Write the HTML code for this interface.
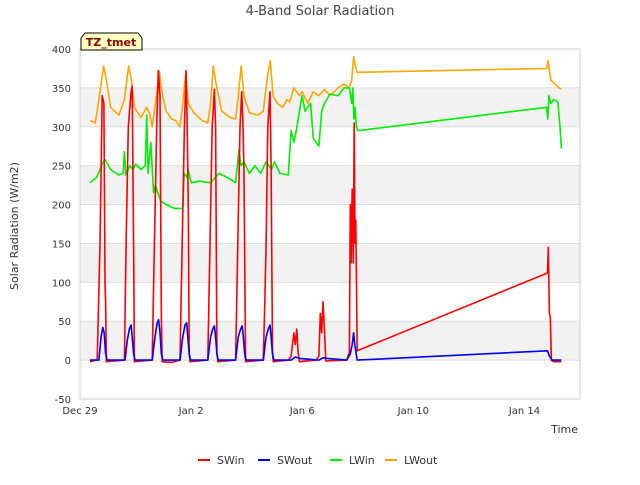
<!DOCTYPE html>
<html><head><meta charset="utf-8"><style>
body{margin:0;background:#fff;font-family:"Liberation Sans","DejaVu Sans",sans-serif;}
svg text{font-family:"DejaVu Sans","Liberation Sans",sans-serif;}
</style></head><body>
<svg id="c" width="640" height="480" xmlns="http://www.w3.org/2000/svg"></svg>
<script>
const categories = ["Dec 29","Jan 2","Jan 6","Jan 10","Jan 14"];
const tickDays = [0,4,8,12,16];
const yTicks = [-50,0,50,100,150,200,250,300,350,400];
const seriesNames = ["SWin","SWout","LWin","LWout"];
const seriesColors = ["#ff0000","#0000ff","#00ee00","#ffa500"];
const swinDays = [0.36,0.62,0.72,0.8,0.86,0.9,0.92,0.95,1.6,1.66,1.74,1.84,1.88,1.93,1.96,2.6,2.68,2.76,2.82,2.88,2.93,2.96,3.3,3.6,3.68,3.76,3.82,3.86,3.9,3.93,3.96,4.6,4.68,4.76,4.84,4.88,4.93,4.96,5.6,5.68,5.76,5.82,5.86,5.9,5.96,6.6,6.66,6.7,6.76,6.84,6.88,6.93,6.96,7.5,7.6,7.7,7.75,7.8,7.85,7.9,8.5,8.6,8.65,8.7,8.75,8.8,8.85,9.6,9.7,9.73,9.76,9.8,9.84,9.87,9.9,9.93,9.98,16.83,16.86,16.9,16.93,16.97,17.05,17.33];
const swinVals = [-2,0,150,340,330,100,75,-2,0,150,300,345,352,150,-2,0,150,300,372,340,50,-2,-3,0,150,300,372,300,195,10,-2,0,150,300,348,300,10,-2,0,150,300,345,310,250,-2,0,85,150,300,345,250,10,-2,0,5,35,20,40,10,-2,0,5,60,35,75,40,-1,0,10,200,125,220,125,305,150,180,12,112,145,60,55,0,-2,-2];
const swoutDays = [0.36,0.68,0.76,0.82,0.87,0.92,0.98,1.62,1.7,1.78,1.84,1.88,1.93,1.98,2.6,2.7,2.78,2.83,2.88,2.93,2.98,3.6,3.7,3.78,3.84,3.88,3.93,3.98,4.6,4.7,4.78,4.84,4.88,4.93,4.98,5.6,5.7,5.78,5.84,5.88,5.93,5.98,6.6,6.7,6.78,6.84,6.88,6.93,6.98,7.6,7.75,7.95,8.6,8.75,8.95,9.6,9.73,9.8,9.85,9.9,9.98,16.83,16.9,17.0,17.33];
const swoutVals = [0,0,30,42,35,8,0,0,25,40,45,30,8,0,0,30,48,52,35,8,0,0,30,45,48,30,8,0,0,30,40,44,30,8,0,0,30,40,44,30,8,0,0,30,40,45,30,8,0,0,4,2,0,3,2,0,8,20,35,18,0,12,5,0,0];
const lwinDays = [0.36,0.6,0.8,0.9,1.1,1.4,1.55,1.6,1.65,1.8,1.9,2.0,2.2,2.35,2.4,2.45,2.55,2.65,2.72,2.8,2.9,3.1,3.4,3.7,3.75,3.85,3.9,4.0,4.3,4.7,5.0,5.3,5.6,5.72,5.8,5.9,6.1,6.3,6.5,6.7,6.9,7.0,7.2,7.5,7.6,7.7,7.8,7.9,8.0,8.1,8.3,8.4,8.6,8.7,8.8,9.0,9.3,9.5,9.7,9.78,9.82,9.86,9.9,9.95,10.0,16.8,16.84,16.88,16.95,17.05,17.2,17.28,17.33];
const lwinVals = [228,235,252,258,245,238,240,268,238,250,245,252,245,250,315,240,280,215,225,215,205,200,195,195,240,235,245,228,230,228,240,235,228,270,250,255,240,250,240,255,245,255,240,238,295,280,298,320,340,320,330,285,275,320,330,342,340,350,350,330,350,310,325,300,295,325,310,340,330,335,332,300,272];
const lwoutDays = [0.36,0.55,0.7,0.85,0.95,1.1,1.4,1.6,1.75,1.85,1.95,2.2,2.4,2.5,2.6,2.75,2.85,2.95,3.1,3.3,3.45,3.6,3.7,3.8,3.9,4.1,4.4,4.6,4.7,4.8,4.9,5.1,5.4,5.6,5.7,5.8,5.9,6.1,6.4,6.6,6.75,6.85,6.95,7.1,7.3,7.45,7.55,7.7,7.9,8.0,8.2,8.4,8.6,8.8,9.0,9.3,9.5,9.7,9.78,9.85,9.9,9.98,16.8,16.85,16.95,17.1,17.25,17.33];
const lwoutVals = [308,305,340,378,360,325,315,335,378,360,325,312,325,318,300,340,372,345,320,310,308,300,330,368,330,318,308,305,330,378,355,320,312,310,340,378,340,318,315,320,365,385,340,330,325,335,332,350,340,345,330,345,340,348,340,350,355,350,360,390,380,370,375,385,360,355,350,348];
const S="http://www.w3.org/2000/svg";
const svg=document.getElementById('c');
const L=80,R=580,T=49,B=399,dMax=18;
const xs=d=>L+d/dMax*(R-L);
const ys=v=>T+(400-v)/450*(B-T);
function el(t,a,p){const e=document.createElementNS(S,t);for(const k in a)e.setAttribute(k,a[k]);(p||svg).appendChild(e);return e;}
for(let v=0;v<400;v+=100){const r=el('rect',{x:L,y:ys(v+50),width:R-L,height:ys(v)-ys(v+50),fill:'#f2f2f2'});

}
yTicks.forEach(v=>{const l=el('line',{x1:L,x2:R,y1:ys(v),y2:ys(v),stroke:'#dcdcdc','stroke-width':1});


const t=el('text',{x:71,y:ys(v)+4,'text-anchor':'end','font-size':10,fill:'#333'});t.textContent=v;

});
const fr=el('rect',{x:L,y:T,width:R-L,height:B-T,fill:'none',stroke:'#ccc'});


tickDays.forEach((d,i)=>{const t=el('text',{x:xs(d),y:414,'text-anchor':'middle','font-size':10,fill:'#333'});t.textContent=categories[i];

});
const data=[[swinDays,swinVals],[swoutDays,swoutVals],[lwinDays,lwinVals],[lwoutDays,lwoutVals]];
[3,2,0,1].forEach(i=>{const [ds,vs]=data[i];const pts=ds.map((d,j)=>xs(d).toFixed(1)+','+ys(vs[j]).toFixed(1)).join(' ');
const p=el('polyline',{points:pts,fill:'none',stroke:seriesColors[i],'stroke-width':1.6,'stroke-linejoin':'round'});

});
const tt=el('text',{x:320,y:15,'text-anchor':'middle','font-size':13,fill:'#444'});tt.textContent='4-Band Solar Radiation';


const yl=el('text',{x:18,y:226,'text-anchor':'middle','font-size':11,fill:'#333',transform:'rotate(-90 18 226)'});yl.textContent='Solar Radiation (W/m2)';


const xl=el('text',{x:578,y:433,'text-anchor':'end','font-size':11,fill:'#333'});xl.textContent='Time';


const tzg=el('g',{});


el('path',{d:'M81,50 L81,38 L85,33 L138,33 L142,38 L142,50 Z',fill:'#ffffc0',stroke:'#000'},tzg);
const tz=el('text',{x:111,y:46,'text-anchor':'middle','font-size':11,'font-weight':'bold',fill:'#8b0000'},tzg);tz.textContent='TZ_tmet';
const lx=[198,258,330,385];
seriesNames.forEach((n,i)=>{const g=el('g',{});


el('line',{x1:lx[i],x2:lx[i]+12,y1:460,y2:460,stroke:seriesColors[i],'stroke-width':2},g);
const t=el('text',{x:lx[i]+19,y:464,'font-size':11,fill:'#333'},g);t.textContent=n;});
</script>
</body></html>
